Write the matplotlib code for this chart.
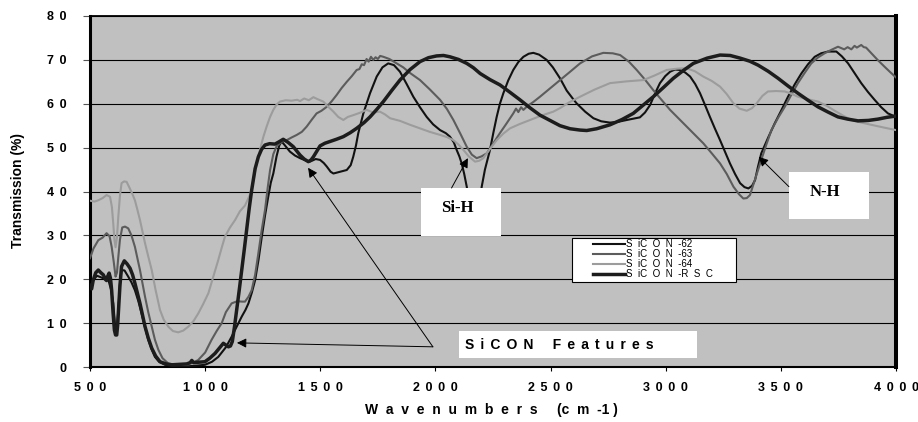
import matplotlib
matplotlib.use("Agg")
import matplotlib.pyplot as plt
from matplotlib.patches import Rectangle

plt.rcParams['font.family'] = ['Liberation Sans', 'DejaVu Sans']

# ---- data (wavenumber cm-1, transmission %) ----
x62 = [500, 515, 530, 545, 558, 570, 580, 592, 601, 608, 613, 618, 623, 630, 637, 650, 666, 680, 695, 710,
       724, 740, 753, 768, 782, 800, 826, 870, 912, 960, 999, 1030, 1057, 1090, 1115, 1140, 1159, 1175, 1188, 1203,
       1217, 1232, 1246, 1260, 1274, 1285, 1296, 1310, 1322, 1332, 1345, 1368, 1390, 1412, 1435, 1455, 1480, 1499,
       1515, 1528, 1545, 1557, 1586, 1615, 1632, 1643, 1655, 1665, 1687, 1716, 1745, 1770, 1795, 1820, 1846, 1875,
       1904, 1933, 1962, 1990, 2020, 2045, 2063, 2080, 2092, 2104, 2114, 2125, 2136, 2150, 2168, 2185, 2201, 2215,
       2237, 2252, 2266, 2280, 2295, 2316, 2338, 2360, 2382, 2405, 2425, 2450, 2483, 2510, 2541, 2570, 2599, 2613,
       2650, 2686, 2720, 2758, 2795, 2831, 2870, 2888, 2910, 2932, 2955, 2975, 2998, 3019, 3040, 3062, 3085, 3106,
       3128, 3149, 3170, 3192, 3214, 3236, 3258, 3279, 3301, 3323, 3342, 3359, 3375, 3388, 3400, 3415, 3445, 3473,
       3503, 3531, 3560, 3589, 3618, 3647, 3675, 3705, 3741, 3765, 3792, 3820, 3849, 3878, 3907, 3936, 3965, 4000]
y62 = [18.3, 19.8, 20.8, 20.5, 20.2, 20.6, 19.8, 17.5, 14.5, 10.0, 8.4, 9.5, 13.0, 19.0, 22.1, 22.0, 20.6, 19.3,
       17.5, 15.0, 12.2, 8.8, 6.2, 4.0, 2.3, 1.2, 0.5, 0.2, 0.1, 0.3, 0.5, 1.2, 2.3, 4.5, 6.9, 9.5, 11.5, 13.0, 14.5,
       17.0, 19.8, 24.5, 29.7, 34.5, 38.8, 42.0, 44.1, 48.0, 50.5, 51.4, 50.6, 49.1, 48.2, 47.6, 47.1, 46.8, 47.4,
       47.2, 46.5, 45.7, 44.5, 44.1, 44.5, 44.9, 46.0, 47.9, 50.5, 53.3, 57.8, 62.4, 66.2, 68.3, 69.2, 68.8, 67.3,
       64.5, 61.6, 59.2, 57.0, 55.3, 54.0, 53.3, 52.5, 51.2, 49.5, 48.0, 46.4, 44.0, 41.1, 36.0, 33.0, 35.0, 41.1,
       45.0, 49.5, 53.5, 57.0, 60.0, 62.4, 65.3, 67.7, 69.5, 70.7, 71.4, 71.6, 71.2, 70.0, 68.3, 65.8, 63.0, 61.0,
       60.1, 58.2, 56.7, 56.0, 55.7, 55.9, 56.3, 56.7, 56.9, 58.0, 59.7, 62.5, 64.7, 66.3, 67.3, 67.8, 67.7, 67.1,
       66.2, 64.5, 62.4, 59.8, 57.0, 54.3, 51.7, 49.0, 46.4, 44.0, 41.9, 41.0, 40.7, 41.3, 42.6, 45.5, 48.7, 52.3,
       55.5, 58.6, 61.6, 64.4, 66.9, 69.0, 70.7, 71.5, 71.9, 71.9, 70.8, 69.2, 67.0, 64.7, 62.7, 60.9, 59.2, 57.8,
       57.0]

x63 = [500, 515, 536, 555, 572, 585, 594, 603, 611, 617, 623, 630, 640, 652, 666, 680, 695, 706, 717, 728, 739,
       753, 768, 782, 797, 815, 840, 875, 912, 945, 970, 1000, 1028, 1050, 1072, 1090, 1115, 1140, 1160, 1173, 1188,
       1202, 1217, 1231, 1245, 1260, 1272, 1282, 1296, 1310, 1325, 1340, 1354, 1375, 1398, 1420, 1441, 1462, 1484,
       1505, 1528, 1550, 1571, 1593, 1615, 1637, 1658, 1670, 1680, 1690, 1701, 1710, 1720, 1730, 1740, 1750, 1760,
       1774, 1800, 1832, 1860, 1890, 1933, 1975, 2020, 2050, 2078, 2108, 2136, 2158, 2179, 2200, 2223, 2250, 2280,
       2310, 2338, 2350, 2360, 2372, 2382, 2400, 2425, 2454, 2500, 2541, 2585, 2628, 2680, 2729, 2770, 2802, 2840,
       2874, 2910, 2946, 2983, 3019, 3055, 3091, 3127, 3163, 3200, 3236, 3265, 3294, 3318, 3337, 3352, 3366, 3380,
       3395, 3415, 3437, 3459, 3488, 3517, 3545, 3574, 3603, 3632, 3660, 3690, 3720, 3748, 3775, 3790, 3806, 3820,
       3830, 3849, 3860, 3870, 3893, 3920, 3951, 3975, 4000]
y63 = [24.8, 27.0, 28.9, 29.5, 30.5, 29.8, 27.4, 24.0, 20.6, 21.5, 25.1, 29.0, 31.8, 32.0, 31.6, 30.0, 27.4, 24.8,
       22.1, 19.0, 16.0, 12.5, 9.2, 6.2, 3.9, 2.0, 0.8, 0.5, 0.5, 0.9, 1.6, 3.3, 6.2, 8.2, 10.0, 12.5, 14.5, 15.0,
       14.9, 14.9, 16.0, 17.5, 21.0, 25.9, 31.0, 35.8, 41.0, 44.9, 48.5, 50.3, 51.0, 51.6, 51.7, 52.3, 52.9, 53.6,
       54.8, 56.3, 57.8, 58.4, 59.3, 60.6, 62.0, 63.6, 65.0, 66.3, 67.7, 67.9, 69.0, 68.8, 70.2, 69.6, 70.7, 70.0,
       70.6, 70.2, 70.9, 70.7, 70.2, 69.2, 68.3, 67.0, 65.4, 63.3, 60.9, 58.8, 56.3, 53.2, 50.2, 48.4, 47.6, 48.0,
       48.7, 50.9, 53.3, 55.6, 57.8, 58.9, 58.1, 59.2, 58.6, 59.5, 60.4, 61.6, 63.6, 65.4, 67.3, 69.2, 70.8, 71.6,
       71.5, 71.1, 69.6, 67.7, 65.5, 63.1, 60.8, 58.6, 56.7, 54.8, 52.9, 51.0, 48.7, 46.4, 44.0, 41.1, 39.4, 38.4,
       38.5, 39.2, 41.5, 44.0, 47.2, 50.7, 54.0, 56.8, 59.3, 62.0, 64.7, 67.0, 69.2, 70.5, 71.5, 72.3, 73.0, 72.4,
       72.9, 72.4, 73.2, 72.8, 73.4, 72.9, 72.8, 71.5, 70.0, 68.4, 67.2, 66.0]

x64 = [500, 520, 536, 555, 572, 587, 595, 601, 606, 611, 617, 623, 630, 637, 648, 659, 672, 685, 695, 706, 717,
       728, 739, 753, 768, 785, 804, 820, 840, 860, 883, 905, 927, 950, 970, 990, 1014, 1035, 1057, 1072, 1086,
       1108, 1130, 1151, 1173, 1188, 1202, 1220, 1238, 1253, 1267, 1282, 1296, 1310, 1325, 1350, 1375, 1400, 1412,
       1430, 1450, 1470, 1490, 1513, 1535, 1557, 1578, 1600, 1620, 1643, 1670, 1701, 1730, 1759, 1780, 1803, 1846,
       1890, 1933, 1975, 2020, 2050, 2078, 2100, 2121, 2145, 2172, 2190, 2208, 2237, 2266, 2295, 2324, 2367, 2411,
       2460, 2512, 2541, 2580, 2628, 2690, 2758, 2830, 2903, 2950, 3004, 3050, 3091, 3127, 3163, 3200, 3236, 3265,
       3294, 3320, 3352, 3375, 3395, 3420, 3444, 3480, 3517, 3545, 3574, 3620, 3661, 3700, 3734, 3770, 3806, 3850,
       3893, 3945, 4000]
y64 = [37.9, 37.7, 38.0, 38.5, 39.2, 38.8, 36.5, 32.7, 29.0, 27.3, 29.5, 34.3, 39.0, 41.9, 42.3, 42.2, 40.8, 39.3,
       38.0, 35.8, 33.5, 30.8, 28.2, 25.2, 22.1, 17.5, 13.0, 10.8, 9.2, 8.2, 7.9, 8.3, 9.2, 10.5, 12.2, 14.2, 16.8,
       20.5, 24.4, 27.2, 29.7, 31.8, 33.5, 35.5, 36.8, 38.5, 40.3, 45.5, 49.5, 52.5, 54.8, 57.0, 58.6, 59.8, 60.5,
       60.8, 60.7, 60.9, 60.6, 61.2, 60.8, 61.5, 61.0, 60.5, 59.3, 58.2, 57.0, 56.3, 57.0, 57.4, 57.9, 58.6, 58.0,
       58.2, 57.6, 56.7, 56.1, 55.2, 54.4, 53.6, 52.9, 52.4, 51.7, 50.7, 49.5, 48.0, 46.8, 47.0, 47.6, 49.7, 51.7,
       53.2, 54.4, 55.4, 56.3, 57.3, 58.2, 59.0, 60.3, 61.6, 63.2, 64.7, 65.1, 65.4, 66.4, 67.7, 68.0, 68.1, 67.4,
       66.2, 65.2, 63.9, 62.2, 60.1, 58.9, 58.4, 59.0, 60.1, 61.8, 62.8, 62.9, 62.8, 62.3, 61.6, 61.0, 60.5, 59.5,
       58.4, 57.3, 56.3, 55.7, 55.2, 54.6, 54.0]

xrsc = [500, 507, 514, 525, 536, 547, 558, 566, 572, 578, 583, 589, 594, 600, 606, 611, 616, 620, 623, 630, 637,
        649, 661, 674, 685, 695, 706, 717, 728, 739, 753, 768, 785, 804, 830, 855, 890, 920, 935, 942, 950, 975,
        999, 1020, 1043, 1060, 1079, 1090, 1101, 1110, 1118, 1127, 1137, 1148, 1159, 1170, 1180, 1191, 1202, 1217,
        1231, 1245, 1260, 1280, 1303, 1320, 1339, 1360, 1383, 1400, 1412, 1430, 1448, 1460, 1470, 1485, 1499, 1520,
        1542, 1570, 1600, 1630, 1658, 1690, 1716, 1745, 1774, 1810, 1846, 1890, 1933, 1970, 2005, 2035, 2063, 2100,
        2136, 2165, 2194, 2237, 2280, 2324, 2367, 2410, 2454, 2498, 2541, 2585, 2628, 2657, 2700, 2758, 2810, 2859,
        2900, 2946, 2990, 3033, 3077, 3120, 3180, 3236, 3280, 3323, 3365, 3401, 3445, 3488, 3530, 3574, 3618, 3661,
        3705, 3748, 3790, 3835, 3880, 3922, 3960, 4000]
yrsc = [18.5, 17.8, 19.8, 21.5, 22.1, 21.5, 21.0, 20.0, 19.7, 20.8, 21.4, 20.2, 17.5, 12.5, 8.4, 7.3, 7.3, 9.5,
        12.2, 18.5, 22.9, 24.2, 23.5, 22.5, 21.0, 19.1, 16.8, 14.5, 11.8, 9.2, 6.6, 4.3, 2.5, 1.2, 0.7, 0.5, 0.6,
        0.7, 1.0, 1.5, 1.0, 1.1, 1.2, 2.0, 3.1, 4.2, 5.4, 5.0, 4.6, 4.8, 5.8, 9.0, 13.0, 17.5, 22.1, 26.8, 31.2,
        36.0, 40.3, 45.2, 47.9, 49.6, 50.6, 50.9, 50.8, 51.3, 51.9, 51.2, 50.2, 49.1, 48.3, 47.4, 46.8, 47.2, 47.9,
        49.2, 50.4, 51.0, 51.4, 51.9, 52.5, 53.4, 54.4, 55.7, 57.0, 58.7, 60.5, 63.0, 65.4, 67.8, 69.6, 70.5, 70.9,
        71.0, 70.7, 70.1, 69.2, 68.2, 66.9, 65.5, 64.3, 62.6, 60.9, 59.1, 57.4, 56.2, 55.0, 54.3, 54.0, 53.9, 54.3,
        55.2, 56.4, 57.8, 59.6, 61.6, 63.7, 65.8, 67.6, 69.2, 70.4, 71.1, 71.0, 70.4, 69.7, 68.8, 67.4, 65.8, 64.1,
        62.4, 60.8, 59.3, 58.1, 57.0, 56.5, 56.1, 56.2, 56.5, 56.9, 57.2]

series_names = ["S  iC  O  N  -62", "S  iC  O  N  -63", "S  iC  O  N  -64", "S  iC  O  N  -R  S  C"]
x_ticks = [500, 1000, 1500, 2000, 2500, 3000, 3500, 4000]
y_ticks = [0, 10, 20, 30, 40, 50, 60, 70, 80]

# ---- figure ----
W, H = 918, 422
fig = plt.figure(figsize=(W / 100, H / 100), dpi=100)
L, R, T, B = 90, 896, 16, 367
ax = fig.add_axes([L / W, 1 - B / H, (R - L) / W, (B - T) / H])
ax.set_facecolor('#c0c0c0')

ax.plot(x62, y62, color='#111111', lw=1.5, label=series_names[0], zorder=3)
ax.plot(x63, y63, color='#5c5c5c', lw=1.5, label=series_names[1], zorder=3)
ax.plot(x64, y64, color='#9c9c9c', lw=1.5, label=series_names[2], zorder=3)
ax.plot(xrsc, yrsc, color='#1c1c1c', lw=2.5, label=series_names[3], zorder=3)

# letter-spaced tick labels like the original
sep = " \u2006"
ax.set_xlim(500, 4000)
ax.set_ylim(0, 80)
ax.set_xticks(x_ticks)
ax.set_xticklabels([sep.join(str(v)) for v in x_ticks])
ax.set_yticks(y_ticks)
ax.set_yticklabels([sep.join(str(v)) for v in y_ticks])
ax.yaxis.grid(True, color='black', lw=0.8)
ax.set_axisbelow(True)

ax.tick_params(axis='x', direction='out', length=3, width=0.8, pad=8, labelsize=9)
ax.tick_params(axis='y', direction='out', length=5, width=0.8, color='#555555', pad=12, labelsize=9)
for lab in ax.get_xticklabels() + ax.get_yticklabels():
    lab.set_fontweight('bold')

ax.spines['left'].set_linewidth(2.2)
ax.spines['right'].set_linewidth(2.9)
ax.spines['top'].set_linewidth(1.3)
ax.spines['bottom'].set_linewidth(1.5)

fig.text(18 / W, 1 - 191 / H, "Transmission (%)", rotation=90, ha='center', va='center',
         fontsize=10, fontweight='bold')
fig.text(491 / W, 1 - 410 / H, "W  a  v  e  n  u  m  b  e  r  s     (c  m  -1 )",
         ha='center', va='center', fontsize=10, fontweight='bold')

# ---- annotation boxes ----
ax.add_patch(Rectangle((1937, 29.9), 348, 10.9, facecolor='white', edgecolor='none', zorder=5))
ax.text(2094, 36.3, "Si-H", family='Liberation Serif', fontweight='bold', fontsize=12,
        ha='center', va='center', zorder=6)
ax.add_patch(Rectangle((3535, 33.7), 348, 10.7, facecolor='white', edgecolor='none', zorder=5))
ax.text(3690, 39.9, "N-H", family='Liberation Serif', fontweight='bold', fontsize=12,
        ha='center', va='center', zorder=6)
ax.add_patch(Rectangle((2102, 2.1), 1034, 6.1, facecolor='white', edgecolor='none', zorder=5))
ax.text(2128, 5.1, sep.join("SiCON") + "     " + sep.join("Features"), fontweight='bold', fontsize=10,
        ha='left', va='center', zorder=6)

arrow = dict(arrowstyle='-|>', color='black', lw=0.7, mutation_scale=14, shrinkA=0, shrinkB=0)
ax.annotate("", xy=(2141, 47.6), xytext=(2070, 40.8), arrowprops=arrow, zorder=7)
ax.annotate("", xy=(3404, 47.9), xytext=(3535, 41.1), arrowprops=arrow, zorder=7)
ax.annotate("", xy=(1447, 45.4), xytext=(1989, 4.6), arrowprops=arrow, zorder=7)
ax.annotate("", xy=(1138, 5.5), xytext=(1989, 4.6), arrowprops=arrow, zorder=7)

# ---- legend ----
ax.add_patch(Rectangle((572 / W, 1 - 282 / H), (736 - 572) / W, 44 / H, transform=fig.transFigure,
                       facecolor='white', edgecolor='black', lw=0.8, zorder=8, clip_on=False))
leg = ax.legend(loc='upper left', bbox_to_anchor=(593 / W, 1 - 239 / H), bbox_transform=fig.transFigure,
                frameon=False, borderpad=0, borderaxespad=0, handlelength=3.3, handletextpad=0.05,
                labelspacing=0.0, prop={'size': 7})
leg.set_zorder(9)

fig.savefig("out.png", dpi=100)
